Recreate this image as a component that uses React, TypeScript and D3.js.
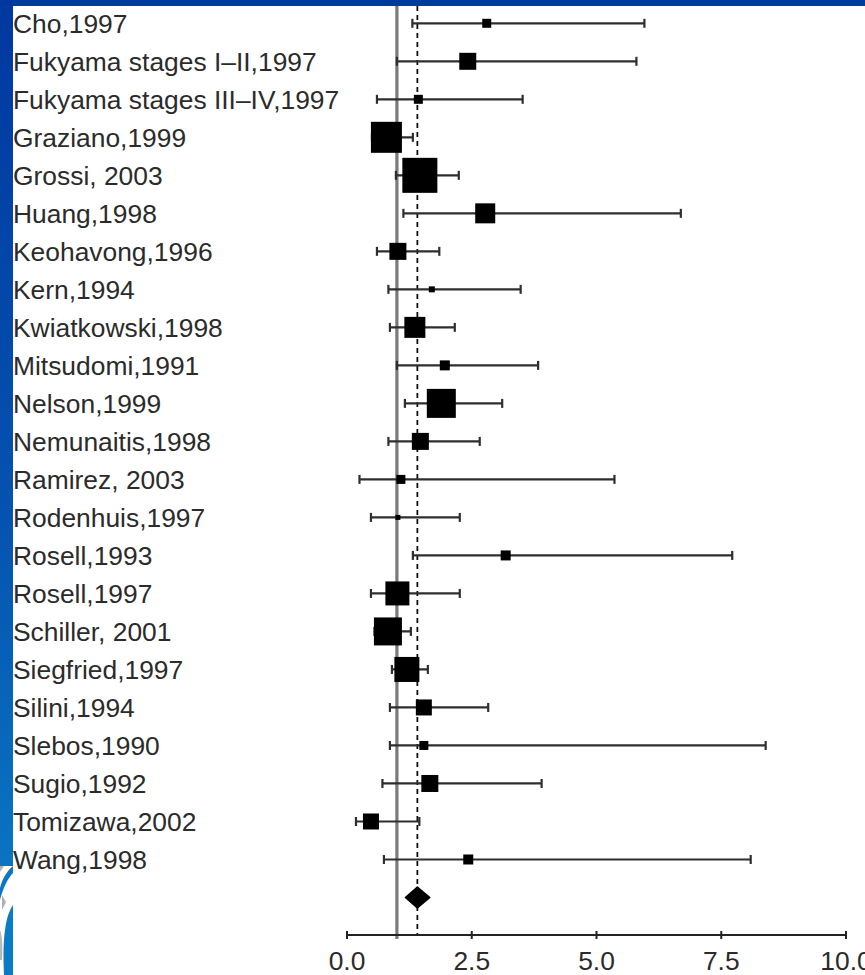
import React from "react";
import * as d3 from "d3";

const studies = [
  "Cho,1997",
  "Fukyama stages I–II,1997",
  "Fukyama stages III–IV,1997",
  "Graziano,1999",
  "Grossi, 2003",
  "Huang,1998",
  "Keohavong,1996",
  "Kern,1994",
  "Kwiatkowski,1998",
  "Mitsudomi,1991",
  "Nelson,1999",
  "Nemunaitis,1998",
  "Ramirez, 2003",
  "Rodenhuis,1997",
  "Rosell,1993",
  "Rosell,1997",
  "Schiller, 2001",
  "Siegfried,1997",
  "Silini,1994",
  "Slebos,1990",
  "Sugio,1992",
  "Tomizawa,2002",
  "Wang,1998",
];
const estimates = [2.8, 2.42, 1.43, 0.79, 1.46, 2.77, 1.02, 1.7, 1.36, 1.96, 1.89, 1.47, 1.08, 1.02, 3.18, 1.01, 0.82, 1.2, 1.54, 1.54, 1.66, 0.48, 2.43];
const lowers = [1.31, 1.0, 0.6, 0.5, 0.98, 1.13, 0.6, 0.83, 0.86, 1.0, 1.16, 0.83, 0.25, 0.48, 1.32, 0.48, 0.55, 0.9, 0.86, 0.86, 0.71, 0.18, 0.74];
const uppers = [5.96, 5.8, 3.52, 1.32, 2.24, 6.69, 1.85, 3.48, 2.16, 3.83, 3.11, 2.66, 5.36, 2.26, 7.72, 2.26, 1.28, 1.62, 2.83, 8.39, 3.9, 1.45, 8.09];
const weights = [9, 17, 9, 31, 35, 20, 17, 6, 21, 10, 29, 17, 9, 5, 10, 24, 28, 25, 16, 9, 17, 16, 10];
const pooled = { est: 1.41, lo: 1.17, hi: 1.66 };
const nullValue = 1.0;
const xTicks = [0, 2.5, 5, 7.5, 10];

const W = 865;
const H = 975;

export default function App() {
  const x = d3.scaleLinear().domain([0, 10]).range([347, 846]);
  const y = d3.scaleLinear().domain([0, 23]).range([23.3, 897.5]);
  const size = d3.scaleLinear().domain([0, d3.max(weights) as number]).range([0, 35]);
  const axisY = 935;
  const font = "'Liberation Sans', Arial, Helvetica, sans-serif";
  const dy = y(23);
  const diamond = `M${x(pooled.lo)},${dy} L${x(pooled.est)},${dy - 10.5} L${x(pooled.hi)},${dy} L${x(pooled.est)},${dy + 10.5} Z`;

  return (
    <svg
      width={W}
      height={H}
      style={{ position: "absolute", left: 0, top: 0, background: "#fff" }}
      xmlns="http://www.w3.org/2000/svg"
    >
      <defs>
        <linearGradient id="leftbar" x1="0" y1="0" x2="0" y2="1">
          <stop offset="0" stopColor="#0038a0" />
          <stop offset="0.6" stopColor="#0553b0" />
          <stop offset="1" stopColor="#0a74c2" />
        </linearGradient>
      </defs>
      <rect x={0} y={0} width={W} height={H} fill="#fff" />
      {/* slide frame */}
      <rect x={0} y={0} width={W} height={6} fill="#003a9f" />
      <rect x={0} y={0} width={13} height={866} fill="url(#leftbar)" />
      <g>
        <rect x={0} y={866} width={13} height={109} fill="#fff" />
        <path d="M13,866 C6,872 2,880 0,888 L0,900 C3,888 8,878 13,873 Z" fill="#0a78c4" />
        <path d="M0,872 L4,866 L0,866 Z" fill="#b5b5b5" />
        <path d="M2,895 L6,902 L2,910 Z" fill="#b0b0b0" />
        <path d="M13,905 C6,915 2,935 4,975 L13,975 Z" fill="#0a7cc6" />
        <path d="M0,930 C2,935 3,945 2,960 L0,960 Z" fill="#b9b9b9" />
      </g>

      {/* null line */}
      <line x1={x(nullValue)} x2={x(nullValue)} y1={6} y2={axisY + 4} stroke="#7a7a7a" strokeWidth={3.2} />
      {/* pooled dashed line */}
      <line x1={x(pooled.est)} x2={x(pooled.est)} y1={6} y2={axisY} stroke="#111" strokeWidth={1.8} strokeDasharray="5 4" />

      {/* study CIs */}
      {studies.map((s, i) => {
        const yy = y(i);
        return (
          <g key={"ci" + i} stroke="#2e2e2e" strokeWidth={2.2}>
            <line x1={x(lowers[i])} x2={x(uppers[i])} y1={yy} y2={yy} />
            <line x1={x(lowers[i])} x2={x(lowers[i])} y1={yy - 4.5} y2={yy + 4.5} />
            <line x1={x(uppers[i])} x2={x(uppers[i])} y1={yy - 4.5} y2={yy + 4.5} />
          </g>
        );
      })}
      {studies.map((s, i) => {
        const sz = size(weights[i]);
        return (
          <rect
            key={"sq" + i}
            x={x(estimates[i]) - sz / 2}
            y={y(i) - sz / 2}
            width={sz}
            height={sz}
            fill="#000"
          />
        );
      })}
      <path d={diamond} fill="#000" stroke="#000" strokeWidth={1.5} strokeLinejoin="round" />

      {/* labels */}
      {studies.map((s, i) => (
        <text
          key={"lb" + i}
          x={13}
          y={y(i) + 9.4}
          fontFamily={font}
          fontSize={26.4}
          fill="#2b2b2b"
        >
          {s}
        </text>
      ))}

      {/* x axis */}
      <line x1={x(0)} x2={x(10)} y1={axisY} y2={axisY} stroke="#222" strokeWidth={2} />
      {xTicks.map((t) => (
        <g key={"t" + t}>
          <line x1={x(t)} x2={x(t)} y1={axisY - 4} y2={axisY + 4} stroke="#222" strokeWidth={2} />
          <text
            x={x(t)}
            y={970}
            textAnchor="middle"
            fontFamily={font}
            fontSize={26.4}
            fill="#2b2b2b"
          >
            {d3.format(".1f")(t)}
          </text>
        </g>
      ))}
    </svg>
  );
}
